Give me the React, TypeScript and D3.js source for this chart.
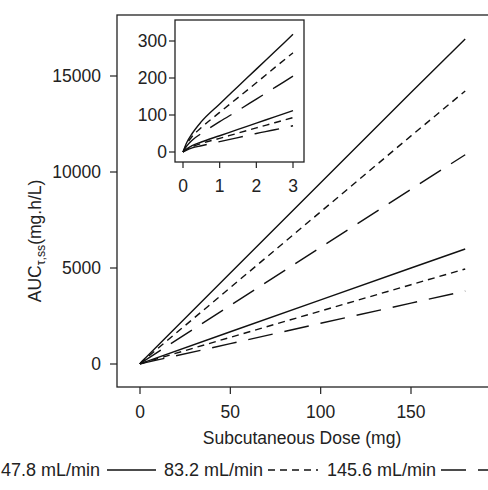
import React from 'react';
import * as d3 from 'd3';

// doses (mg) and steady-state AUC (mg.h/L)
const doses = [0, 0.1, 0.25, 0.5, 1, 1.5, 2, 2.5, 3, 50, 100, 150, 180];
const clearances = ['47.8 mL/min', '83.2 mL/min', '145.6 mL/min'];
const upperSolid = [0, 25, 50, 82, 130, 177, 224, 271, 318, 4740, 9440, 14140, 16930];
const upperShort = [0, 21, 42, 66, 107, 147, 187, 228, 268, 3980, 7930, 11880, 14220];
const upperLong = [0, 16, 32, 50, 82, 112, 143, 174, 205, 3050, 6080, 9100, 10900];
const lowerSolid = [0, 8, 17, 27, 44, 61, 78, 95, 112, 1680, 3340, 5000, 5990];
const lowerShort = [0, 7, 14, 23, 37, 51, 65, 79, 93, 1390, 2760, 4130, 4950];
const lowerLong = [0, 5, 11, 17, 28, 39, 50, 60, 71, 1060, 2120, 3170, 3800];
const xTicks = [0, 50, 100, 150];
const yTicks = [0, 5000, 10000, 15000];
const insetXTicks = [0, 1, 2, 3];
const insetYTicks = [0, 100, 200, 300];

const dashes = ['none', '7,5', '25,12'];
const series = [
  { values: upperSolid, style: 0 },
  { values: upperShort, style: 1 },
  { values: upperLong, style: 2 },
  { values: lowerSolid, style: 0 },
  { values: lowerShort, style: 1 },
  { values: lowerLong, style: 2 },
];

const font = '"Liberation Sans", Arial, sans-serif';

export default function App() {
  const W = 488, H = 490;
  // main panel
  const box = { left: 117, top: 15, right: 492, bottom: 387 };
  const x = d3.scaleLinear().domain([0, 150]).range([140, 411]);
  const y = d3.scaleLinear().domain([0, 15000]).range([364, 76]);
  // inset panel
  const ibox = { left: 175, top: 20, right: 304, bottom: 162 };
  const ix = d3.scaleLinear().domain([0, 3]).range([183, 293]);
  const iy = d3.scaleLinear().domain([0, 300]).range([152, 41]);

  const pts = doses.map((d, i) => i);
  const mainLine = (vals: number[]) =>
    d3.line<number>().x(i => x(doses[i])).y(i => y(vals[i]))(pts) || '';
  const insetIdx = pts.filter(i => doses[i] <= 3);
  const insetLine = (vals: number[]) =>
    d3.line<number>().curve(d3.curveMonotoneX).x(i => ix(doses[i])).y(i => iy(vals[i]))(insetIdx) || '';

  const fs = 17.5;
  const legendY = 470;
  const legend = [
    { textEnd: 100, lineStart: 107, lineEnd: 156, style: 0 },
    { textEnd: 263, lineStart: 268, lineEnd: 318, style: 1 },
    { textEnd: 436, lineStart: 441, lineEnd: 520, style: 2 },
  ];

  return (
    <div style={{ position: 'fixed', left: 0, top: 0 }}>
      <svg width={W} height={H} style={{ display: 'block', background: '#fff' }} fontFamily={font}>
        <rect x={box.left} y={box.top} width={box.right - box.left} height={box.bottom - box.top}
          fill="none" stroke="#222" strokeWidth={1.3} />
        {xTicks.map(t => (
          <g key={'x' + t}>
            <line x1={x(t)} x2={x(t)} y1={box.bottom} y2={box.bottom + 7} stroke="#222" strokeWidth={1.2} />
            <text x={x(t)} y={412} dy="0.35em" textAnchor="middle" fontSize={fs} fill="#222">{t}</text>
          </g>
        ))}
        {yTicks.map(t => (
          <g key={'y' + t}>
            <line x1={box.left - 7} x2={box.left} y1={y(t)} y2={y(t)} stroke="#222" strokeWidth={1.2} />
            <text x={box.left - 16} y={y(t)} dy="0.35em" textAnchor="end" fontSize={fs} fill="#222">{t}</text>
          </g>
        ))}
        <text x={(box.left + 487) / 2} y={438} dy="0.35em" textAnchor="middle" fontSize={fs} fill="#222">
          Subcutaneous Dose (mg)
        </text>
        <text transform={`translate(41, 241) rotate(-90)`} textAnchor="middle"
          fontSize={fs} fill="#222">
          AUC<tspan fontSize={fs * 0.7} dy="4">τ,ss</tspan><tspan dy="-4">(mg.h/L)</tspan>
        </text>
        {series.map((s, k) => (
          <path key={'m' + k} d={mainLine(s.values)} fill="none" stroke="#111" strokeWidth={1.4}
            strokeDasharray={dashes[s.style]} />
        ))}
        {/* inset */}
        <rect x={ibox.left} y={ibox.top} width={ibox.right - ibox.left} height={ibox.bottom - ibox.top}
          fill="#fff" stroke="#222" strokeWidth={1.3} />
        {series.map((s, k) => (
          <path key={'i' + k} d={insetLine(s.values)} fill="none" stroke="#111" strokeWidth={1.4}
            strokeDasharray={dashes[s.style]} />
        ))}
        {insetXTicks.map(t => (
          <g key={'ix' + t}>
            <line x1={ix(t)} x2={ix(t)} y1={ibox.bottom} y2={ibox.bottom + 6} stroke="#222" strokeWidth={1.2} />
            <text x={ix(t)} y={186} dy="0.35em" textAnchor="middle" fontSize={fs} fill="#222">{t}</text>
          </g>
        ))}
        {insetYTicks.map(t => (
          <g key={'iy' + t}>
            <line x1={ibox.left - 6} x2={ibox.left} y1={iy(t)} y2={iy(t)} stroke="#222" strokeWidth={1.2} />
            <text x={ibox.left - 8} y={iy(t)} dy="0.35em" textAnchor="end" fontSize={fs} fill="#222">{t}</text>
          </g>
        ))}
        {/* legend */}
        {legend.map((l, k) => (
          <g key={'l' + k}>
            <text x={l.textEnd} y={legendY} dy="0.35em" textAnchor="end" fontSize={18} fill="#222">{clearances[k]}</text>
            <line x1={l.lineStart} x2={l.lineEnd} y1={legendY} y2={legendY} stroke="#111" strokeWidth={1.3}
              strokeDasharray={dashes[l.style]} />
          </g>
        ))}
      </svg>
    </div>
  );
}
